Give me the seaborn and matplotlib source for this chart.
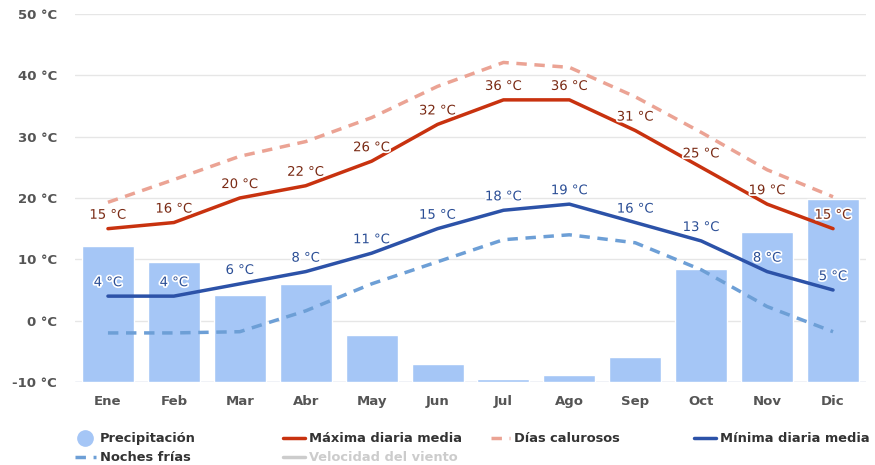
import matplotlib
matplotlib.use("Agg")
import matplotlib.pyplot as plt
from matplotlib.lines import Line2D
import matplotlib.patheffects as pe
import seaborn as sns
import pandas as pd
import numpy as np

months = ["Ene", "Feb", "Mar", "Abr", "May", "Jun", "Jul", "Ago", "Sep", "Oct", "Nov", "Dic"]
max_temp = [15, 16, 20, 22, 26, 32, 36, 36, 31, 25, 19, 15]
min_temp = [4, 4, 6, 8, 11, 15, 18, 19, 16, 13, 8, 5]
hot_days = [19.3, 23.0, 26.8, 29.2, 33.1, 38.2, 42.1, 41.3, 36.5, 30.7, 24.6, 20.2]
cold_nights = [-2.0, -2.0, -1.8, 1.6, 6.0, 9.6, 13.2, 14.0, 12.7, 8.3, 2.3, -1.8]
precip = [22.1, 19.6, 14.2, 16.0, 7.7, 3.0, 0.5, 1.2, 4.1, 18.5, 24.4, 29.9]
yticks = [-10, 0, 10, 20, 30, 40, 50]

sns.set_theme(style="white")
plt.rcParams['font.family'] = ['DejaVu Sans']

fig = plt.figure(figsize=(8.75, 4.65), dpi=100)
ax2 = fig.add_axes([75/875, 1-382/465, 791/875, (382-14)/465])
ax = ax2.twinx()
ax.set_zorder(ax2.get_zorder() + 1)
ax.patch.set_visible(False)

df = pd.DataFrame({"mes": months, "precip": precip})
sns.barplot(data=df, x="mes", y="precip", ax=ax2, color="#a5c6f6", saturation=1,
            width=0.79, zorder=2)
ax2.set_ylim(0, 60)
ax2.set_yticks([0, 10, 20, 30, 40, 50, 60])
ax2.set_axisbelow(True)
ax2.yaxis.grid(True, color="#e6e6e6", linewidth=1)
ax2.set_yticklabels([])
ax2.tick_params(axis="y", length=0)
ax2.set_xlabel("")
ax2.set_ylabel("")
ax2.tick_params(axis="x", length=0, pad=9, labelsize=9.5, labelcolor="#555555")
for lbl in ax2.get_xticklabels():
    lbl.set_fontweight("bold")
ax2.set_xlim(-0.5, 11.5)

x = np.arange(12)
lines = pd.DataFrame({"x": x, "max": max_temp, "min": min_temp, "hot": hot_days, "cold": cold_nights})
sns.lineplot(data=lines, x="x", y="hot", ax=ax, color="#eba394", linewidth=2.5,
             linestyle=(0, (3, 2.2)))
sns.lineplot(data=lines, x="x", y="cold", ax=ax, color="#6d9fd6", linewidth=2.5,
             linestyle=(0, (3, 2.2)))
sns.lineplot(data=lines, x="x", y="max", ax=ax, color="#c8320f", linewidth=2.5)
sns.lineplot(data=lines, x="x", y="min", ax=ax, color="#2c52a8", linewidth=2.5)
ax.set_ylim(-10, 50)
ax.set_xlim(-0.5, 11.5)

halo = [pe.withStroke(linewidth=2.5, foreground="white")]
for i in range(12):
    ax.annotate(f"{max_temp[i]} °C", (x[i], max_temp[i]), xytext=(0, 5), textcoords="offset points",
                ha="center", va="bottom", fontsize=9.5, color="#7a2a14", path_effects=halo)
    ax.annotate(f"{min_temp[i]} °C", (x[i], min_temp[i]), xytext=(0, 5), textcoords="offset points",
                ha="center", va="bottom", fontsize=9.5, color="#2c4f96", path_effects=halo)

ax.yaxis.tick_left()
ax.set_yticks(yticks)
ax.set_yticklabels([f"{t} °C" for t in yticks])
ax.tick_params(axis="y", length=0, pad=13, labelsize=9.5, labelcolor="#555555")
for lbl in ax.get_yticklabels():
    lbl.set_fontweight("bold")
ax.set_ylabel("")
ax.set_xlabel("")

for a in (ax, ax2):
    for s in a.spines.values():
        s.set_visible(False)
ax2.axhline(0, color="#ccd6eb", linewidth=1, zorder=1)

def fx(px):
    return px / 875
def fy(py):
    return 1 - py / 465

tstyle = dict(fontsize=9.4, fontweight="bold", color="#333333", va="center", ha="left")
fig.add_artist(Line2D([fx(85)], [fy(438)], marker="o", markersize=11, color="#a5c6f6", linestyle="none"))
fig.text(fx(100), fy(438), "Precipitación", **tstyle)
fig.add_artist(Line2D([fx(283), fx(305)], [fy(438), fy(438)], color="#c8320f", linewidth=2.5))
fig.text(fx(309), fy(438), "Máxima diaria media", **tstyle)
fig.add_artist(Line2D([fx(491), fx(510)], [fy(438), fy(438)], color="#eba394", linewidth=2.5,
                      linestyle=(0, (3, 2.2))))
fig.text(fx(514), fy(438), "Días calurosos", **tstyle)
fig.add_artist(Line2D([fx(694), fx(716)], [fy(438), fy(438)], color="#2c52a8", linewidth=2.5))
fig.text(fx(720), fy(438), "Mínima diaria media", **tstyle)
fig.add_artist(Line2D([fx(75), fx(96)], [fy(457), fy(457)], color="#6d9fd6", linewidth=2.5,
                      linestyle=(0, (3, 2.2))))
fig.text(fx(100), fy(457), "Noches frías", **tstyle)
fig.add_artist(Line2D([fx(283), fx(305)], [fy(457), fy(457)], color="#cccccc", linewidth=2.5))
fig.text(fx(309), fy(457), "Velocidad del viento", **dict(tstyle, color="#cccccc"))

fig.savefig("out.png", dpi=100, facecolor="white")
